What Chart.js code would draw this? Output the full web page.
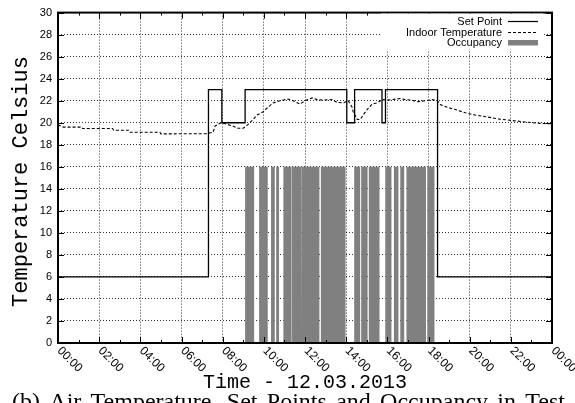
<!DOCTYPE html>
<html>
<head>
<meta charset="utf-8">
<script src="https://cdn.jsdelivr.net/npm/chart.js@4.4.1/dist/chart.umd.min.js"></script>
<style>
  html, body { margin: 0; padding: 0; background: #fff; }
  #wrap { width: 575px; height: 403px; overflow: hidden; }
</style>
</head>
<body>
<div id="wrap"><canvas id="tempChart" width="575" height="403"></canvas></div>
<script>
// ── data (hours of 12.03.2013) ──────────────────────────────
const xTickLabels = ['00:00','02:00','04:00','06:00','08:00','10:00','12:00',
                     '14:00','16:00','18:00','20:00','22:00','00:00'];

const setPointHours  = [0, 7.31, 7.96, 9.09, 14.03, 14.41, 15.74, 15.91, 18.44, 24];
const setPointValues = [6, 23,   20,   23,   20,    23,    20,    23,    6,     6];

const indoorHours = [0, 0.2, 0.25, 1.15, 1.2, 2.65, 2.7, 3.45, 3.5, 4.95,
  5.0, 7.24, 7.54, 7.63, 7.92, 8.12, 8.5, 8.75, 9.0, 9.24,
  9.48, 9.67, 9.97, 10.2, 10.45, 10.79, 11.18, 11.42, 11.76, 12.0,
  12.35, 12.59, 12.88, 13.32, 13.56, 13.86, 14.1, 14.29, 14.34, 14.54,
  14.68, 14.83, 15.02, 15.26, 15.51, 15.75, 16.0, 16.24, 16.63, 16.87,
  17.21, 17.45, 17.84, 18.18, 18.43, 18.57, 18.91, 19.3, 19.79, 20.27,
  20.76, 21.39, 22.07, 22.7, 23.34, 24];
const indoorValues = [19.8, 19.65, 19.6, 19.6, 19.47, 19.47, 19.32, 19.32, 19.14, 19.14,
  18.99, 19.0, 19.15, 19.7, 20.0, 19.9, 19.7, 19.5, 19.5, 19.85,
  20.3, 20.7, 21.0, 21.4, 21.8, 22.0, 22.15, 22.0, 21.7, 22.0,
  22.25, 22.1, 22.05, 22.1, 21.85, 21.8, 22.0, 21.4, 21.0, 20.3,
  20.3, 20.7, 21.2, 21.7, 21.8, 22.1, 22.05, 22.1, 22.2, 22.1,
  22.05, 21.9, 22.0, 22.1, 22.0, 21.65, 21.4, 21.2, 20.9, 20.7,
  20.55, 20.35, 20.2, 20.07, 19.95, 19.9];

const occupancyStart = [9.09, 9.77, 10.35, 10.60, 10.95, 11.37, 11.85, 12.77,
                        14.39, 14.73, 15.10, 15.90, 16.32, 16.63, 16.93, 17.94];
const occupancyEnd   = [9.53, 10.19, 10.53, 10.74, 11.35, 11.83, 12.70, 13.97,
                        14.68, 15.04, 15.62, 16.20, 16.54, 16.82, 17.88, 18.29];
const occupancyLevel = 16;

// ── build datasets ──────────────────────────────────────────
const setPointData = setPointHours.map((h, i) => ({ x: h, y: setPointValues[i] }));
const indoorData   = indoorHours.map((h, i) => ({ x: h, y: indoorValues[i] }));
const occupancyData = [{ x: 0, y: 0 }];
occupancyStart.forEach((s, i) => {
  const e = occupancyEnd[i];
  occupancyData.push({ x: s, y: 0 }, { x: s, y: occupancyLevel },
                     { x: e, y: occupancyLevel }, { x: e, y: 0 });
});
occupancyData.push({ x: 24, y: 0 });

const OCC_GREY = '#808080';

// ── frame, inward ticks, labels, legend, caption ───────────
const decorations = {
  id: 'decorations',
  afterDatasetsDraw(chart) {
    const { ctx, chartArea: a, scales: { x, y } } = chart;
    ctx.save();

    // inward ticks
    ctx.strokeStyle = '#000';
    ctx.lineWidth = 1;
    ctx.beginPath();
    for (let h = 0; h <= 24; h++) {
      const px = Math.round(x.getPixelForValue(h)) + 0.5;
      const len = h % 2 === 0 ? 6 : 3;
      ctx.moveTo(px, a.bottom); ctx.lineTo(px, a.bottom - len);
      ctx.moveTo(px, a.top);    ctx.lineTo(px, a.top + len);
    }
    for (let v = 0; v <= 30; v += 2) {
      const py = Math.round(y.getPixelForValue(v)) + 0.5;
      ctx.moveTo(a.left, py);  ctx.lineTo(a.left + 6, py);
      ctx.moveTo(a.right, py); ctx.lineTo(a.right - 6, py);
    }
    ctx.stroke();

    // frame
    ctx.lineWidth = 2;
    ctx.strokeRect(a.left, a.top, a.right - a.left, a.bottom - a.top);

    // x tick labels, rotated downwards
    ctx.fillStyle = '#000';
    ctx.font = '12px "Liberation Sans", Arial, sans-serif';
    ctx.textAlign = 'left';
    ctx.textBaseline = 'middle';
    xTickLabels.forEach((lab, i) => {
      const px = x.getPixelForValue(i * 2);
      ctx.save();
      ctx.translate(px + 1, a.bottom + 6);
      ctx.rotate(Math.PI / 4);
      ctx.fillText(lab, 0, 0);
      ctx.restore();
    });

    // axis titles
    ctx.font = '20px "Liberation Mono", "DejaVu Sans Mono", monospace';
    ctx.textAlign = 'center';
    ctx.textBaseline = 'alphabetic';
    ctx.fillText('Time - 12.03.2013', (a.left + a.right) / 2, 388);

    ctx.save();
    ctx.font = '22px "Liberation Mono", "DejaVu Sans Mono", monospace';
    ctx.translate(27, 181.5);
    ctx.rotate(-Math.PI / 2);
    ctx.fillText('Temperature Celsius', 0, 0);
    ctx.restore();

    // caption, justified across the width
    ctx.font = '24px "Liberation Serif", "Times New Roman", serif';
    ctx.textAlign = 'left';
    const words = '(b) Air Temperature, Set Points and Occupancy in Test'.split(' ');
    const widths = words.map(w => ctx.measureText(w).width);
    const total = widths.reduce((s, w) => s + w, 0);
    const gap = (565 - 12 - total) / (words.length - 1);
    let cx = 12;
    words.forEach((w, i) => { ctx.fillText(w, cx, 409); cx += widths[i] + gap; });

    // legend
    ctx.fillStyle = '#fff';
    ctx.fillRect(381, a.top + 1, 162, 36);
    ctx.fillStyle = '#000';
    ctx.font = '11px "Liberation Sans", Arial, sans-serif';
    ctx.textAlign = 'right';
    ctx.textBaseline = 'middle';
    const rows = ['Set Point', 'Indoor Temperature', 'Occupancy'];
    rows.forEach((r, i) => ctx.fillText(r, 502, 21.7 + i * 10.8));
    ctx.lineWidth = 1.2;
    ctx.beginPath(); ctx.moveTo(508, 21.5); ctx.lineTo(538, 21.5); ctx.stroke();
    ctx.setLineDash([3, 2]);
    ctx.beginPath(); ctx.moveTo(508, 32.5); ctx.lineTo(538, 32.5); ctx.stroke();
    ctx.setLineDash([]);
    ctx.fillStyle = OCC_GREY;
    ctx.fillRect(508, 40, 30, 5.5);

    ctx.restore();
  }
};

new Chart(document.getElementById('tempChart'), {
  type: 'line',
  data: {
    datasets: [
      { label: 'Set Point', data: setPointData, stepped: true,
        borderColor: '#000', borderWidth: 1.3, pointRadius: 0, fill: false },
      { label: 'Indoor Temperature', data: indoorData,
        borderColor: '#000', borderWidth: 1.1, borderDash: [3, 2],
        pointRadius: 0, fill: false, tension: 0 },
      { label: 'Occupancy', data: occupancyData,
        borderWidth: 0, borderColor: OCC_GREY, backgroundColor: OCC_GREY,
        pointRadius: 0, fill: 'origin', tension: 0 }
    ]
  },
  options: {
    responsive: false,
    animation: false,
    events: [],
    layout: { padding: { top: 11, right: 23, left: 0, bottom: 0 } },
    plugins: { legend: { display: false }, tooltip: { enabled: false } },
    scales: {
      x: {
        type: 'linear', min: 0, max: 24,
        ticks: { display: false, stepSize: 2 },
        grid: { color: '#000', lineWidth: 0.8, drawTicks: false },
        border: { display: false, dash: [1, 2] },
        afterFit(s) { s.height = 60; }
      },
      y: {
        min: 0, max: 30,
        ticks: { stepSize: 2, padding: 6, color: '#000',
                 font: { family: '"Liberation Sans", Arial, sans-serif', size: 11 } },
        grid: { color: '#000', lineWidth: 0.8, drawTicks: false },
        border: { display: false, dash: [1, 2] },
        afterFit(s) { s.width = 58; }
      }
    }
  },
  plugins: [decorations]
});
</script>
</body>
</html>
